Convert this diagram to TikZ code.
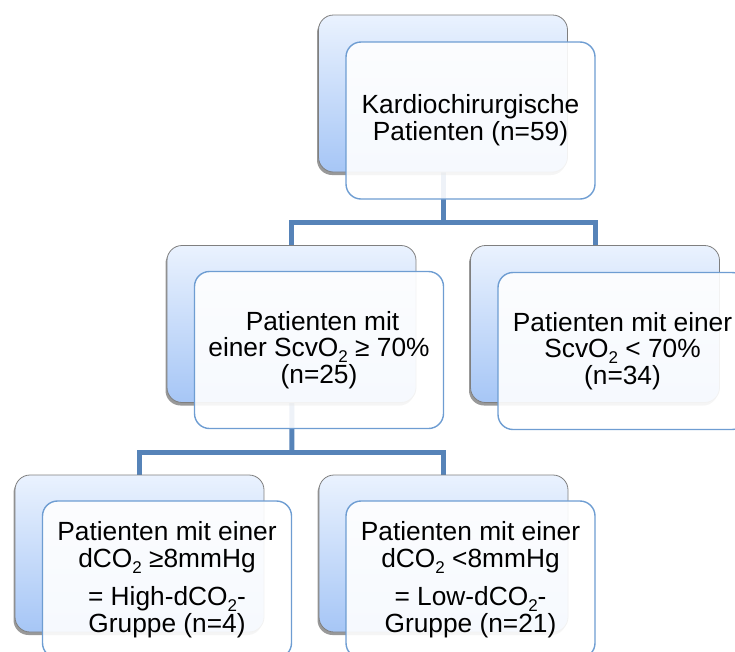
\documentclass[tikz,border=0pt]{standalone}
\usepackage{fontspec}
\setmainfont{Liberation Sans}
\usetikzlibrary{shadows}
\definecolor{connc}{HTML}{5683B8}
\definecolor{frontb}{HTML}{6E9DD2}
\definecolor{backtop}{HTML}{EAF2FE}
\definecolor{backbot}{HTML}{A6C6F6}
\definecolor{backb}{HTML}{7F7F7F}
\newcommand\subtwo{\raisebox{-0.22em}{\fontsize{17}{17}\selectfont 2}}
\pgfdeclarelayer{bg}
\pgfsetlayers{bg,main}
\begin{document}
\begin{tikzpicture}[x=1pt,y=-1pt,
  backbox/.style={rectangle, rounded corners=15pt, draw=backb, line width=0.8pt,
    top color=backtop, bottom color=backbot, minimum width=249pt, minimum height=157pt,
    inner sep=0pt, drop shadow={shadow xshift=-1.5pt, shadow yshift=-3pt, opacity=0.4, fill=black}},
  frontbox/.style={rectangle, rounded corners=15pt, draw=frontb, line width=1.4pt,
    fill=white, fill opacity=0.9, text opacity=1, minimum width=249pt, minimum height=157pt,
    inner sep=0pt, align=center, font={\fontsize{26.3}{26.8}\selectfont}},
  conn/.style={draw=connc, line width=5pt}]
\useasboundingbox (0,0) rectangle (735,651);

% top
\node[backbox] (tb) at (443,93.5) {};
\node[frontbox] (tf) at (470.5,120.5) {Kardiochirurgische\\Patienten (n=59)};
% middle
\node[backbox] (mlb) at (291.5,324) {};
\node[frontbox] (mlf) at (319,350) {\hspace*{7pt}Patienten mit\\einer ScvO\subtwo\ ≥ 70\%\\(n=25)};
\node[backbox] (mrb) at (595,324) {};
\node[frontbox] (mrf) at (622.5,351) {Patienten mit einer\\ScvO\subtwo\ < 70\%\\(n=34)};
% bottom
\node[backbox] (blb) at (139.5,553.5) {};
\node[frontbox] (blf) at (167,579.5) {Patienten mit einer\\dCO\subtwo\ ≥8mmHg\\[11pt]= High-dCO\subtwo-\\Gruppe (n=4)};
\node[backbox] (brb) at (443.5,553.5) {};
\node[frontbox] (brf) at (470.5,579.5) {Patienten mit einer\\dCO\subtwo\ <8mmHg\\[11pt]= Low-dCO\subtwo-\\Gruppe (n=21)};

\coordinate (j1) at (443,222);
\coordinate (j2) at (292,452);
\begin{pgfonlayer}{bg}
\draw[conn] (tb.center) -- (j1);
\draw[conn] (mlb.center) |- (j1) -| (mrb.center);
\draw[conn] (mlb.center) -- (j2);
\draw[conn] (blb.center) |- (j2) -| (brb.center);
\end{pgfonlayer}
\end{tikzpicture}
\end{document}
